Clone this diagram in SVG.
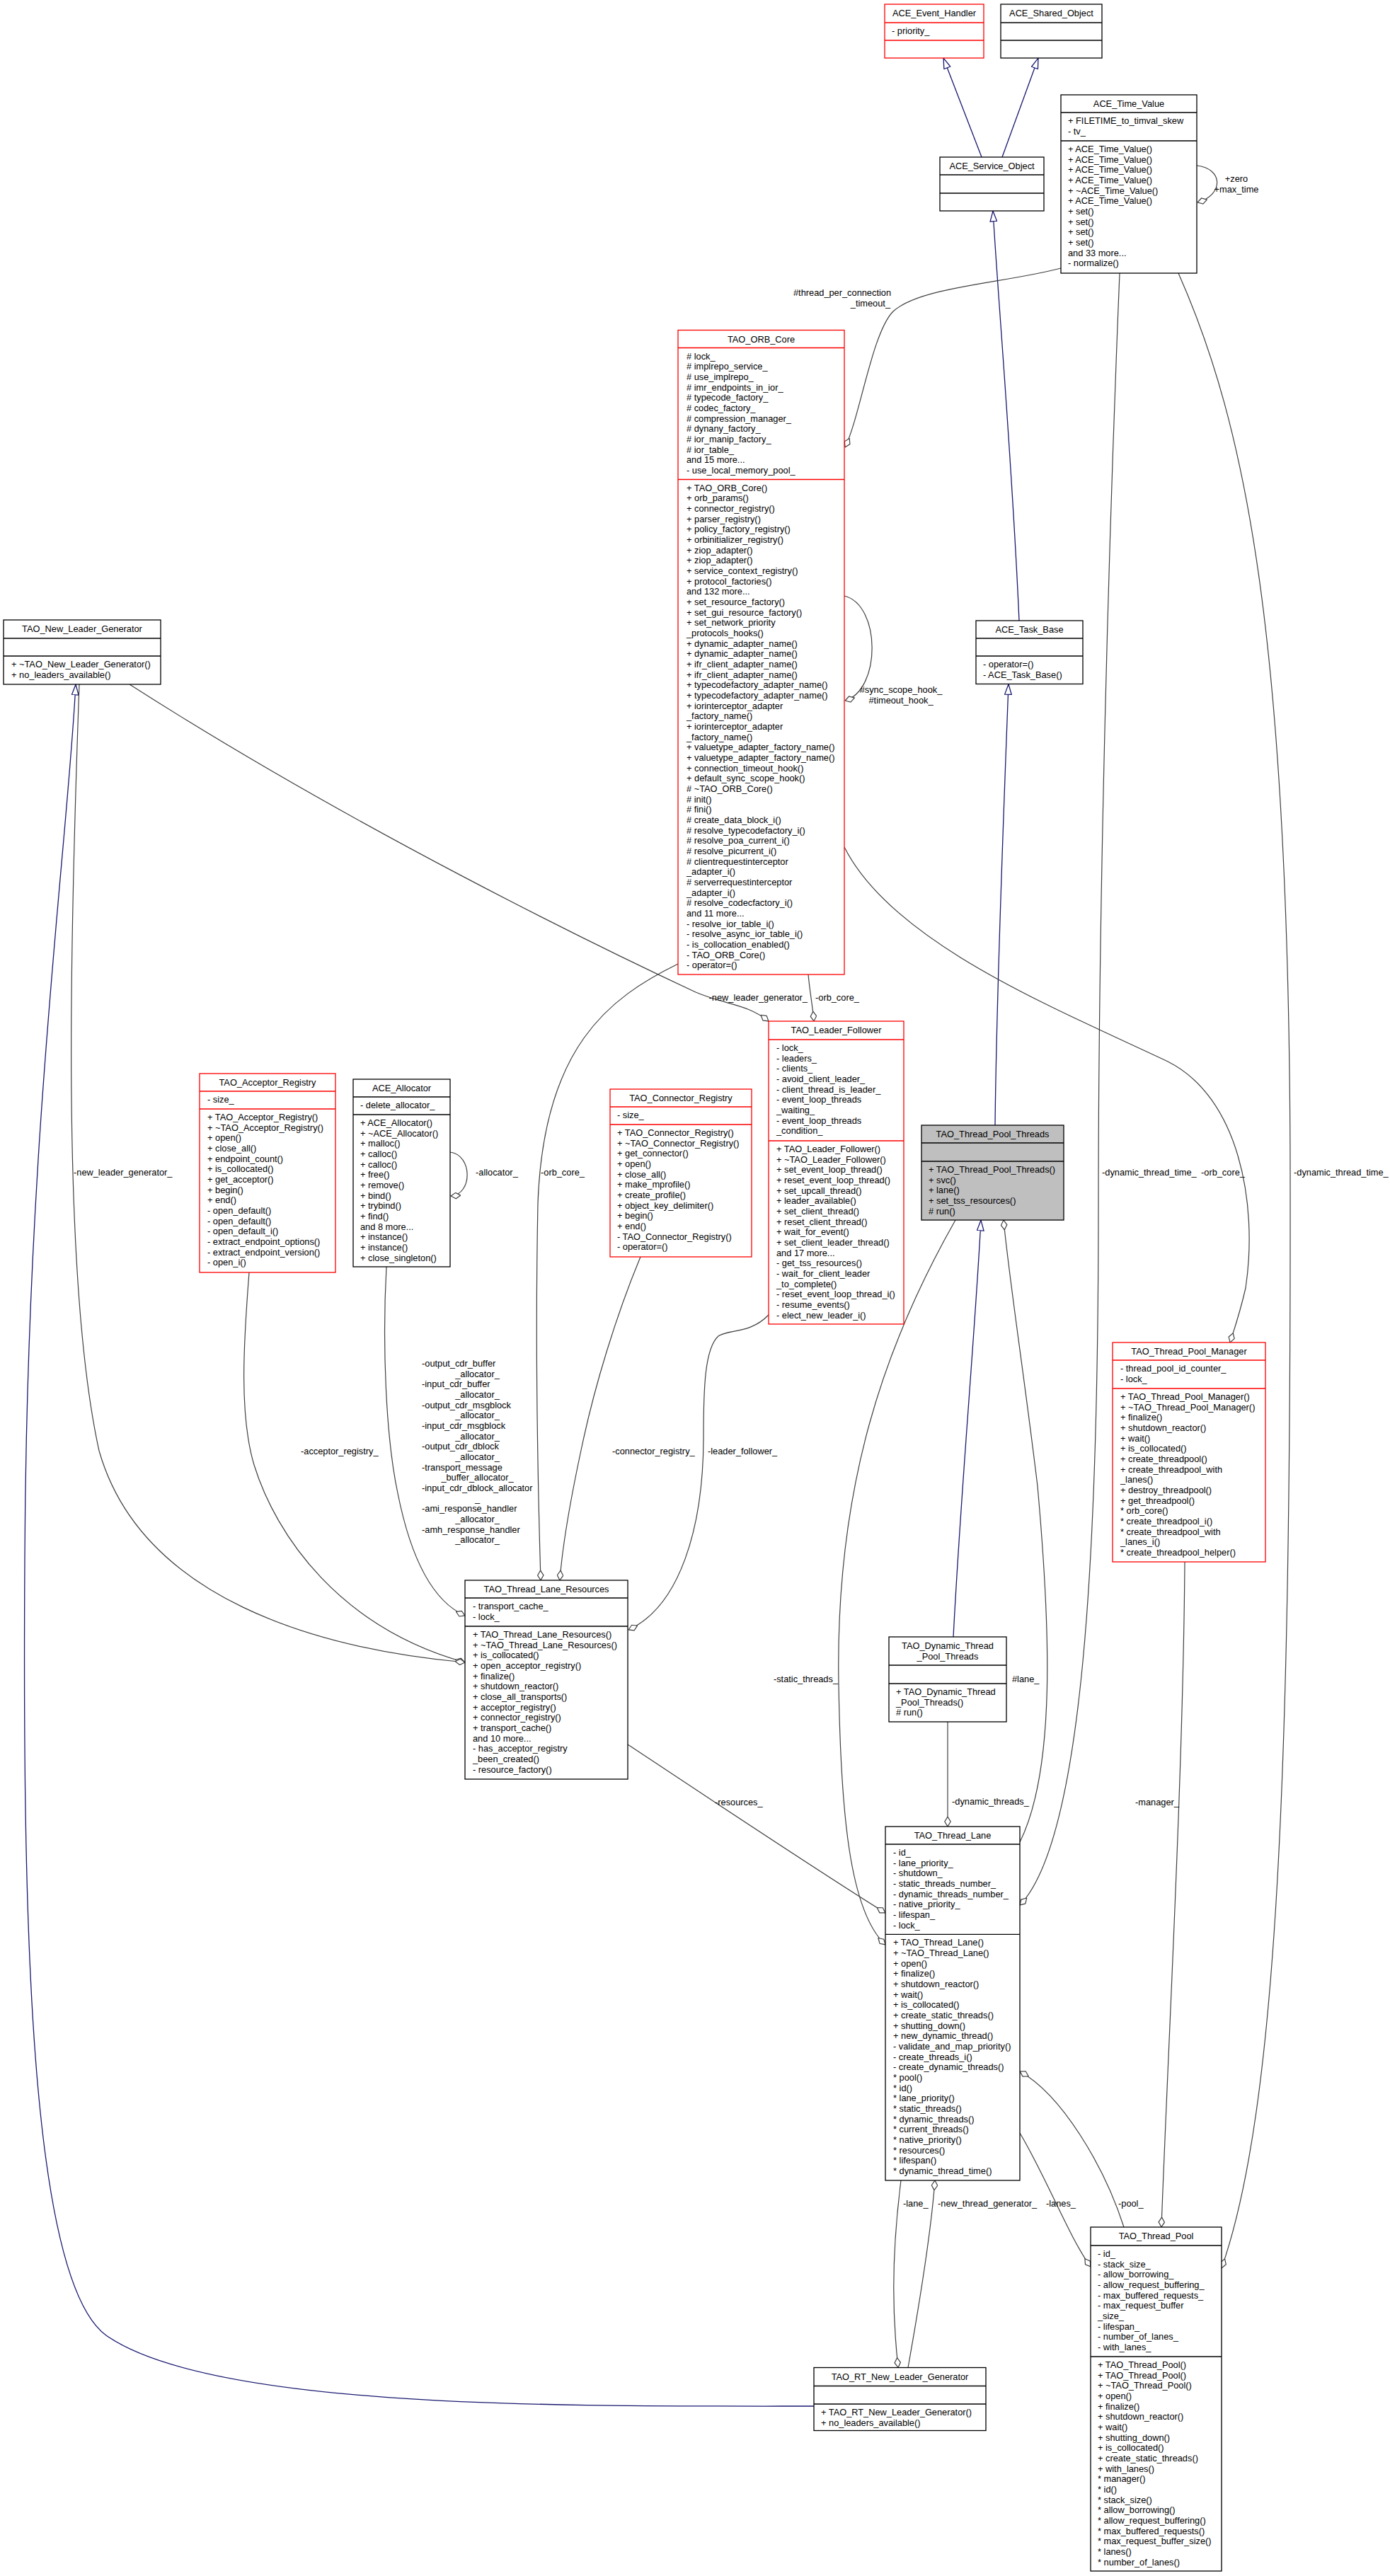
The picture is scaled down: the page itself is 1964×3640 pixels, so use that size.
<svg xmlns="http://www.w3.org/2000/svg" width="1964" height="3640" viewBox="0 0 1964 3640">
<style>
.t{font-family:"Liberation Sans",Arial,sans-serif;font-size:12.8px;fill:#000}
.c{text-anchor:middle}
.e{text-anchor:end}
.bx{fill:#fff;stroke:#000;stroke-width:1.3}
.red{fill:#fff;stroke:#ff0000;stroke-width:1.3}
.gr{fill:#bfbfbf;stroke:#000;stroke-width:1.3}
.dv{stroke:#000;stroke-width:1.3}
.dr{stroke:#ff0000;stroke-width:1.3}
.inh{fill:none;stroke:#191970;stroke-width:1.3;marker-end:url(#inh)}
.agg{fill:none;stroke:#404040;stroke-width:1.2;marker-end:url(#agg)}
</style>
<defs>
<marker id="inh" viewBox="0 0 16 11" refX="15.5" refY="5.5" markerWidth="16" markerHeight="11" markerUnits="userSpaceOnUse" orient="auto"><path d="M0.7,0.7 L15.3,5.5 L0.7,10.3 z" fill="#fff" stroke="#191970" stroke-width="1.3"/></marker>
<marker id="agg" viewBox="0 0 15 10" refX="14.5" refY="5" markerWidth="15" markerHeight="10" markerUnits="userSpaceOnUse" orient="auto"><path d="M0.6,5 L7.5,0.8 L14.4,5 L7.5,9.2 z" fill="#fff" stroke="#404040" stroke-width="1.2"/></marker>
</defs>
<rect width="1964" height="3640" fill="#fff"/>

<g id="edges">
<path class="inh" d="M1387,222 L1333,82"/>
<path class="inh" d="M1416,222 L1467,82"/>
<path class="inh" d="M1440,877 C1430,650 1410,420 1403,298"/>
<path class="inh" d="M1406,1590 C1408,1400 1418,1150 1425,966.5"/>
<path class="inh" d="M1347,2313 C1358,2100 1378,1880 1386,1724"/>
<path class="inh" d="M1150,3400 C800,3400 300,3405 150,3300 C40,3220 32,2700 35,2200 C38,1600 95,1200 107,967"/>
<path class="agg" d="M1691,234 C1728,238 1730,275 1692,286"/>
<path class="agg" d="M1499,379 C1420,400 1300,405 1262,440 C1232,470 1215,590 1194,632"/>
<path class="agg" d="M1193,842 C1245,855 1245,975 1194,990"/>
<path class="agg" d="M1142,1377 C1144,1400 1148,1420 1150,1443"/>
<path class="agg" d="M183,967 C500,1170 850,1340 983,1402 C1025,1420 1055,1418 1086,1443"/>
<path class="agg" d="M958,1362 C860,1410 768,1480 760,1700 C756,1900 760,2100 764,2233"/>
<path class="agg" d="M905,1776 C870,1860 840,1960 823,2040 C810,2100 795,2180 791,2233"/>
<path class="agg" d="M352,1798 C344,1900 338,2000 359,2070 C390,2170 480,2300 657,2349"/>
<path class="agg" d="M112,967 C100,1300 85,1800 140,2050 C200,2260 450,2330 657,2349"/>
<path class="agg" d="M546,1790 C540,1900 545,2030 562,2110 C580,2200 610,2262 657,2283"/>
<path class="agg" d="M636,1628 C668,1632 668,1688 637,1690"/>
<path class="agg" d="M1086,1858 C1060,1885 1030,1878 1015,1888 C996,1905 994,1960 994,2030 C994,2160 960,2270 888,2303"/>
<path class="agg" d="M1193,1197 C1260,1330 1480,1420 1650,1500 C1750,1550 1778,1700 1760,1820 C1752,1855 1745,1875 1738,1897"/>
<path class="agg" d="M1582,386 C1565,800 1552,1300 1552,1700 C1552,2200 1530,2600 1441,2692"/>
<path class="agg" d="M1665,386 C1760,600 1822,900 1823,1657 C1824,2500 1805,2980 1726,3205"/>
<path class="agg" d="M1350,1724 C1250,1900 1180,2100 1185,2380 C1188,2560 1200,2700 1251,2748"/>
<path class="agg" d="M1441,2603 C1492,2500 1484,2300 1466,2100 C1448,1950 1425,1800 1418,1724"/>
<path class="agg" d="M1339,2433 L1339,2581"/>
<path class="agg" d="M887,2465 C1000,2540 1150,2640 1251,2703"/>
<path class="agg" d="M1674,2207 C1672,2500 1650,2900 1641,3147"/>
<path class="agg" d="M1441,3014 C1480,3080 1510,3160 1541,3203"/>
<path class="agg" d="M1588,3147 C1560,3060 1500,2960 1441,2927"/>
<path class="agg" d="M1283,3345.5 C1300,3250 1316,3150 1321,3081"/>
<path class="agg" d="M1273,3081 C1258,3200 1262,3280 1269,3345.5"/>
</g>

<g id="edge-labels" class="t">
<text class="c" x="1747" y="257"><tspan x="1747">+zero</tspan><tspan x="1747" dy="14.67">+max_time</tspan></text>
<text class="c" x="1190" y="418">#thread_per_connection</text>
<text class="e" x="1258" y="432.7">_timeout_</text>
<text class="c" x="1273" y="979"><tspan x="1273">#sync_scope_hook_</tspan><tspan x="1273" dy="14.67">#timeout_hook_</tspan></text>
<text x="1152" y="1414">-orb_core_</text>
<text class="e" x="1141" y="1414">-new_leader_generator_</text>
<text x="764" y="1661">-orb_core_</text>
<text x="104" y="1661">-new_leader_generator_</text>
<text x="672" y="1661">-allocator_</text>
<text x="1557" y="1661">-dynamic_thread_time_</text>
<text x="1697" y="1661">-orb_core_</text>
<text x="1828" y="1661">-dynamic_thread_time_</text>
<text x="425" y="2055">-acceptor_registry_</text>
<text x="865" y="2055">-connector_registry_</text>
<text x="1000" y="2055">-leader_follower_</text>
<text x="596" y="1931">-output_cdr_buffer</text>
<text class="c" x="674.5" y="1945.67">_allocator_</text>
<text x="596" y="1960.34">-input_cdr_buffer</text>
<text class="c" x="674.5" y="1975.01">_allocator_</text>
<text x="596" y="1989.68">-output_cdr_msgblock</text>
<text class="c" x="674.5" y="2004.35">_allocator_</text>
<text x="596" y="2019.02">-input_cdr_msgblock</text>
<text class="c" x="674.5" y="2033.69">_allocator_</text>
<text x="596" y="2048.36">-output_cdr_dblock</text>
<text class="c" x="674.5" y="2063.03">_allocator_</text>
<text x="596" y="2077.7">-transport_message</text>
<text class="c" x="674.5" y="2092.37">_buffer_allocator_</text>
<text x="596" y="2107.04">-input_cdr_dblock_allocator</text>
<text class="c" x="674.5" y="2121.71">_</text>
<text x="596" y="2136.38">-ami_response_handler</text>
<text class="c" x="674.5" y="2151.05">_allocator_</text>
<text x="596" y="2165.72">-amh_response_handler</text>
<text class="c" x="674.5" y="2180.39">_allocator_</text>
<text class="e" x="1184" y="2377">-static_threads_</text>
<text x="1430" y="2377">#lane_</text>
<text x="1345" y="2550">-dynamic_threads_</text>
<text x="1010" y="2551">-resources_</text>
<text x="1604" y="2551">-manager_</text>
<text x="1276" y="3118">-lane_</text>
<text x="1325" y="3118">-new_thread_generator_</text>
<text x="1478" y="3118">-lanes_</text>
<text x="1580" y="3118">-pool_</text>
</g>

<g id="ACE_Event_Handler">
<rect class="red" x="1250" y="6" width="140" height="76"/>
<path class="dr" d="M1250,32 H1390 M1250,57 H1390"/>
<text class="t c" x="1320" y="23">ACE_Event_Handler</text>
<text class="t" x="1260" y="48">- priority_</text>
</g>

<g id="ACE_Shared_Object">
<rect class="bx" x="1414" y="6" width="143" height="76"/>
<path class="dv" d="M1414,32 H1557 M1414,57 H1557"/>
<text class="t c" x="1485.5" y="23">ACE_Shared_Object</text>
</g>

<g id="ACE_Service_Object">
<rect class="bx" x="1328" y="222" width="147" height="76"/>
<path class="dv" d="M1328,247 H1475 M1328,273 H1475"/>
<text class="t c" x="1401.5" y="239">ACE_Service_Object</text>
</g>

<g id="ACE_Time_Value">
<rect class="bx" x="1499" y="134" width="192" height="252"/>
<path class="dv" d="M1499,159 H1691 M1499,199 H1691"/>
<text class="t c" x="1595" y="151">ACE_Time_Value</text>
<text class="t" x="1509" y="175"><tspan x="1509">+ FILETIME_to_timval_skew</tspan><tspan x="1509" dy="14.67">- tv_</tspan></text>
<text class="t" x="1509" y="215"><tspan x="1509">+ ACE_Time_Value()</tspan><tspan x="1509" dy="14.67">+ ACE_Time_Value()</tspan><tspan x="1509" dy="14.67">+ ACE_Time_Value()</tspan><tspan x="1509" dy="14.67">+ ACE_Time_Value()</tspan><tspan x="1509" dy="14.67">+ ~ACE_Time_Value()</tspan><tspan x="1509" dy="14.67">+ ACE_Time_Value()</tspan><tspan x="1509" dy="14.67">+ set()</tspan><tspan x="1509" dy="14.67">+ set()</tspan><tspan x="1509" dy="14.67">+ set()</tspan><tspan x="1509" dy="14.67">+ set()</tspan><tspan x="1509" dy="14.67">and 33 more...</tspan><tspan x="1509" dy="14.67">- normalize()</tspan></text>
</g>

<g id="TAO_ORB_Core">
<rect class="red" x="958" y="466.5" width="235" height="910.5"/>
<path class="dr" d="M958,491.5 H1193 M958,677.5 H1193"/>
<text class="t c" x="1075.5" y="483.5">TAO_ORB_Core</text>
<text class="t" x="970" y="507.5"><tspan x="970"># lock_</tspan><tspan x="970" dy="14.67"># implrepo_service_</tspan><tspan x="970" dy="14.67"># use_implrepo_</tspan><tspan x="970" dy="14.67"># imr_endpoints_in_ior_</tspan><tspan x="970" dy="14.67"># typecode_factory_</tspan><tspan x="970" dy="14.67"># codec_factory_</tspan><tspan x="970" dy="14.67"># compression_manager_</tspan><tspan x="970" dy="14.67"># dynany_factory_</tspan><tspan x="970" dy="14.67"># ior_manip_factory_</tspan><tspan x="970" dy="14.67"># ior_table_</tspan><tspan x="970" dy="14.67">and 15 more...</tspan><tspan x="970" dy="14.67">- use_local_memory_pool_</tspan></text>
<text class="t" x="970" y="693.5"><tspan x="970">+ TAO_ORB_Core()</tspan><tspan x="970" dy="14.67">+ orb_params()</tspan><tspan x="970" dy="14.67">+ connector_registry()</tspan><tspan x="970" dy="14.67">+ parser_registry()</tspan><tspan x="970" dy="14.67">+ policy_factory_registry()</tspan><tspan x="970" dy="14.67">+ orbinitializer_registry()</tspan><tspan x="970" dy="14.67">+ ziop_adapter()</tspan><tspan x="970" dy="14.67">+ ziop_adapter()</tspan><tspan x="970" dy="14.67">+ service_context_registry()</tspan><tspan x="970" dy="14.67">+ protocol_factories()</tspan><tspan x="970" dy="14.67">and 132 more...</tspan><tspan x="970" dy="14.67">+ set_resource_factory()</tspan><tspan x="970" dy="14.67">+ set_gui_resource_factory()</tspan><tspan x="970" dy="14.67">+ set_network_priority</tspan><tspan x="970" dy="14.67">_protocols_hooks()</tspan><tspan x="970" dy="14.67">+ dynamic_adapter_name()</tspan><tspan x="970" dy="14.67">+ dynamic_adapter_name()</tspan><tspan x="970" dy="14.67">+ ifr_client_adapter_name()</tspan><tspan x="970" dy="14.67">+ ifr_client_adapter_name()</tspan><tspan x="970" dy="14.67">+ typecodefactory_adapter_name()</tspan><tspan x="970" dy="14.67">+ typecodefactory_adapter_name()</tspan><tspan x="970" dy="14.67">+ iorinterceptor_adapter</tspan><tspan x="970" dy="14.67">_factory_name()</tspan><tspan x="970" dy="14.67">+ iorinterceptor_adapter</tspan><tspan x="970" dy="14.67">_factory_name()</tspan><tspan x="970" dy="14.67">+ valuetype_adapter_factory_name()</tspan><tspan x="970" dy="14.67">+ valuetype_adapter_factory_name()</tspan><tspan x="970" dy="14.67">+ connection_timeout_hook()</tspan><tspan x="970" dy="14.67">+ default_sync_scope_hook()</tspan><tspan x="970" dy="14.67"># ~TAO_ORB_Core()</tspan><tspan x="970" dy="14.67"># init()</tspan><tspan x="970" dy="14.67"># fini()</tspan><tspan x="970" dy="14.67"># create_data_block_i()</tspan><tspan x="970" dy="14.67"># resolve_typecodefactory_i()</tspan><tspan x="970" dy="14.67"># resolve_poa_current_i()</tspan><tspan x="970" dy="14.67"># resolve_picurrent_i()</tspan><tspan x="970" dy="14.67"># clientrequestinterceptor</tspan><tspan x="970" dy="14.67">_adapter_i()</tspan><tspan x="970" dy="14.67"># serverrequestinterceptor</tspan><tspan x="970" dy="14.67">_adapter_i()</tspan><tspan x="970" dy="14.67"># resolve_codecfactory_i()</tspan><tspan x="970" dy="14.67">and 11 more...</tspan><tspan x="970" dy="14.67">- resolve_ior_table_i()</tspan><tspan x="970" dy="14.67">- resolve_async_ior_table_i()</tspan><tspan x="970" dy="14.67">- is_collocation_enabled()</tspan><tspan x="970" dy="14.67">- TAO_ORB_Core()</tspan><tspan x="970" dy="14.67">- operator=()</tspan></text>
</g>

<g id="TAO_New_Leader_Generator">
<rect class="bx" x="5" y="876" width="222" height="91"/>
<path class="dv" d="M5,902 H227 M5,927 H227"/>
<text class="t c" x="116" y="893">TAO_New_Leader_Generator</text>
<text class="t" x="16" y="943"><tspan x="16">+ ~TAO_New_Leader_Generator()</tspan><tspan x="16" dy="14.67">+ no_leaders_available()</tspan></text>
</g>

<g id="ACE_Task_Base">
<rect class="bx" x="1379" y="877" width="151" height="89.5"/>
<path class="dv" d="M1379,902 H1530 M1379,927 H1530"/>
<text class="t c" x="1454.5" y="894">ACE_Task_Base</text>
<text class="t" x="1389" y="943"><tspan x="1389">- operator=()</tspan><tspan x="1389" dy="14.67">- ACE_Task_Base()</tspan></text>
</g>

<g id="TAO_Leader_Follower">
<rect class="red" x="1086" y="1443" width="191" height="428"/>
<path class="dr" d="M1086,1469 H1277 M1086,1612 H1277"/>
<text class="t c" x="1181.5" y="1460">TAO_Leader_Follower</text>
<text class="t" x="1097" y="1485"><tspan x="1097">- lock_</tspan><tspan x="1097" dy="14.67">- leaders_</tspan><tspan x="1097" dy="14.67">- clients_</tspan><tspan x="1097" dy="14.67">- avoid_client_leader_</tspan><tspan x="1097" dy="14.67">- client_thread_is_leader_</tspan><tspan x="1097" dy="14.67">- event_loop_threads</tspan><tspan x="1097" dy="14.67">_waiting_</tspan><tspan x="1097" dy="14.67">- event_loop_threads</tspan><tspan x="1097" dy="14.67">_condition_</tspan></text>
<text class="t" x="1097" y="1628"><tspan x="1097">+ TAO_Leader_Follower()</tspan><tspan x="1097" dy="14.67">+ ~TAO_Leader_Follower()</tspan><tspan x="1097" dy="14.67">+ set_event_loop_thread()</tspan><tspan x="1097" dy="14.67">+ reset_event_loop_thread()</tspan><tspan x="1097" dy="14.67">+ set_upcall_thread()</tspan><tspan x="1097" dy="14.67">+ leader_available()</tspan><tspan x="1097" dy="14.67">+ set_client_thread()</tspan><tspan x="1097" dy="14.67">+ reset_client_thread()</tspan><tspan x="1097" dy="14.67">+ wait_for_event()</tspan><tspan x="1097" dy="14.67">+ set_client_leader_thread()</tspan><tspan x="1097" dy="14.67">and 17 more...</tspan><tspan x="1097" dy="14.67">- get_tss_resources()</tspan><tspan x="1097" dy="14.67">- wait_for_client_leader</tspan><tspan x="1097" dy="14.67">_to_complete()</tspan><tspan x="1097" dy="14.67">- reset_event_loop_thread_i()</tspan><tspan x="1097" dy="14.67">- resume_events()</tspan><tspan x="1097" dy="14.67">- elect_new_leader_i()</tspan></text>
</g>

<g id="TAO_Acceptor_Registry">
<rect class="red" x="282" y="1517" width="192" height="281"/>
<path class="dr" d="M282,1542 H474 M282,1567 H474"/>
<text class="t c" x="378" y="1534">TAO_Acceptor_Registry</text>
<text class="t" x="293" y="1558">- size_</text>
<text class="t" x="293" y="1583"><tspan x="293">+ TAO_Acceptor_Registry()</tspan><tspan x="293" dy="14.67">+ ~TAO_Acceptor_Registry()</tspan><tspan x="293" dy="14.67">+ open()</tspan><tspan x="293" dy="14.67">+ close_all()</tspan><tspan x="293" dy="14.67">+ endpoint_count()</tspan><tspan x="293" dy="14.67">+ is_collocated()</tspan><tspan x="293" dy="14.67">+ get_acceptor()</tspan><tspan x="293" dy="14.67">+ begin()</tspan><tspan x="293" dy="14.67">+ end()</tspan><tspan x="293" dy="14.67">- open_default()</tspan><tspan x="293" dy="14.67">- open_default()</tspan><tspan x="293" dy="14.67">- open_default_i()</tspan><tspan x="293" dy="14.67">- extract_endpoint_options()</tspan><tspan x="293" dy="14.67">- extract_endpoint_version()</tspan><tspan x="293" dy="14.67">- open_i()</tspan></text>
</g>

<g id="ACE_Allocator">
<rect class="bx" x="499" y="1525" width="137" height="265"/>
<path class="dv" d="M499,1550 H636 M499,1575 H636"/>
<text class="t c" x="567.5" y="1542">ACE_Allocator</text>
<text class="t" x="509" y="1566">- delete_allocator_</text>
<text class="t" x="509" y="1591"><tspan x="509">+ ACE_Allocator()</tspan><tspan x="509" dy="14.67">+ ~ACE_Allocator()</tspan><tspan x="509" dy="14.67">+ malloc()</tspan><tspan x="509" dy="14.67">+ calloc()</tspan><tspan x="509" dy="14.67">+ calloc()</tspan><tspan x="509" dy="14.67">+ free()</tspan><tspan x="509" dy="14.67">+ remove()</tspan><tspan x="509" dy="14.67">+ bind()</tspan><tspan x="509" dy="14.67">+ trybind()</tspan><tspan x="509" dy="14.67">+ find()</tspan><tspan x="509" dy="14.67">and 8 more...</tspan><tspan x="509" dy="14.67">+ instance()</tspan><tspan x="509" dy="14.67">+ instance()</tspan><tspan x="509" dy="14.67">+ close_singleton()</tspan></text>
</g>

<g id="TAO_Connector_Registry">
<rect class="red" x="862" y="1539" width="200" height="237"/>
<path class="dr" d="M862,1564 H1062 M862,1589 H1062"/>
<text class="t c" x="962" y="1556">TAO_Connector_Registry</text>
<text class="t" x="872" y="1580">- size_</text>
<text class="t" x="872" y="1605"><tspan x="872">+ TAO_Connector_Registry()</tspan><tspan x="872" dy="14.67">+ ~TAO_Connector_Registry()</tspan><tspan x="872" dy="14.67">+ get_connector()</tspan><tspan x="872" dy="14.67">+ open()</tspan><tspan x="872" dy="14.67">+ close_all()</tspan><tspan x="872" dy="14.67">+ make_mprofile()</tspan><tspan x="872" dy="14.67">+ create_profile()</tspan><tspan x="872" dy="14.67">+ object_key_delimiter()</tspan><tspan x="872" dy="14.67">+ begin()</tspan><tspan x="872" dy="14.67">+ end()</tspan><tspan x="872" dy="14.67">- TAO_Connector_Registry()</tspan><tspan x="872" dy="14.67">- operator=()</tspan></text>
</g>

<g id="TAO_Thread_Pool_Threads">
<rect class="gr" x="1302" y="1590" width="201" height="134"/>
<path class="dv" d="M1302,1615 H1503 M1302,1641 H1503"/>
<text class="t c" x="1402.5" y="1607">TAO_Thread_Pool_Threads</text>
<text class="t" x="1312" y="1657"><tspan x="1312">+ TAO_Thread_Pool_Threads()</tspan><tspan x="1312" dy="14.67">+ svc()</tspan><tspan x="1312" dy="14.67">+ lane()</tspan><tspan x="1312" dy="14.67">+ set_tss_resources()</tspan><tspan x="1312" dy="14.67"># run()</tspan></text>
</g>

<g id="TAO_Thread_Pool_Manager">
<rect class="red" x="1572" y="1897" width="216" height="310"/>
<path class="dr" d="M1572,1922 H1788 M1572,1962 H1788"/>
<text class="t c" x="1680" y="1914">TAO_Thread_Pool_Manager</text>
<text class="t" x="1583" y="1938"><tspan x="1583">- thread_pool_id_counter_</tspan><tspan x="1583" dy="14.67">- lock_</tspan></text>
<text class="t" x="1583" y="1978"><tspan x="1583">+ TAO_Thread_Pool_Manager()</tspan><tspan x="1583" dy="14.67">+ ~TAO_Thread_Pool_Manager()</tspan><tspan x="1583" dy="14.67">+ finalize()</tspan><tspan x="1583" dy="14.67">+ shutdown_reactor()</tspan><tspan x="1583" dy="14.67">+ wait()</tspan><tspan x="1583" dy="14.67">+ is_collocated()</tspan><tspan x="1583" dy="14.67">+ create_threadpool()</tspan><tspan x="1583" dy="14.67">+ create_threadpool_with</tspan><tspan x="1583" dy="14.67">_lanes()</tspan><tspan x="1583" dy="14.67">+ destroy_threadpool()</tspan><tspan x="1583" dy="14.67">+ get_threadpool()</tspan><tspan x="1583" dy="14.67">* orb_core()</tspan><tspan x="1583" dy="14.67">* create_threadpool_i()</tspan><tspan x="1583" dy="14.67">* create_threadpool_with</tspan><tspan x="1583" dy="14.67">_lanes_i()</tspan><tspan x="1583" dy="14.67">* create_threadpool_helper()</tspan></text>
</g>

<g id="TAO_Thread_Lane_Resources">
<rect class="bx" x="657" y="2233" width="230" height="281"/>
<path class="dv" d="M657,2258 H887 M657,2298 H887"/>
<text class="t c" x="772" y="2250">TAO_Thread_Lane_Resources</text>
<text class="t" x="668" y="2274"><tspan x="668">- transport_cache_</tspan><tspan x="668" dy="14.67">- lock_</tspan></text>
<text class="t" x="668" y="2314"><tspan x="668">+ TAO_Thread_Lane_Resources()</tspan><tspan x="668" dy="14.67">+ ~TAO_Thread_Lane_Resources()</tspan><tspan x="668" dy="14.67">+ is_collocated()</tspan><tspan x="668" dy="14.67">+ open_acceptor_registry()</tspan><tspan x="668" dy="14.67">+ finalize()</tspan><tspan x="668" dy="14.67">+ shutdown_reactor()</tspan><tspan x="668" dy="14.67">+ close_all_transports()</tspan><tspan x="668" dy="14.67">+ acceptor_registry()</tspan><tspan x="668" dy="14.67">+ connector_registry()</tspan><tspan x="668" dy="14.67">+ transport_cache()</tspan><tspan x="668" dy="14.67">and 10 more...</tspan><tspan x="668" dy="14.67">- has_acceptor_registry</tspan><tspan x="668" dy="14.67">_been_created()</tspan><tspan x="668" dy="14.67">- resource_factory()</tspan></text>
</g>

<g id="TAO_Dynamic_Thread_Pool_Threads">
<rect class="bx" x="1256" y="2313" width="166" height="120"/>
<path class="dv" d="M1256,2353 H1422 M1256,2379 H1422"/>
<text class="t c" x="1339" y="2330"><tspan x="1339">TAO_Dynamic_Thread</tspan><tspan x="1339" dy="14.67">_Pool_Threads</tspan></text>
<text class="t" x="1266" y="2395"><tspan x="1266">+ TAO_Dynamic_Thread</tspan><tspan x="1266" dy="14.67">_Pool_Threads()</tspan><tspan x="1266" dy="14.67"># run()</tspan></text>
</g>

<g id="TAO_Thread_Lane">
<rect class="bx" x="1251" y="2581" width="190" height="500"/>
<path class="dv" d="M1251,2606 H1441 M1251,2733.4 H1441"/>
<text class="t c" x="1346" y="2598">TAO_Thread_Lane</text>
<text class="t" x="1262" y="2622"><tspan x="1262">- id_</tspan><tspan x="1262" dy="14.67">- lane_priority_</tspan><tspan x="1262" dy="14.67">- shutdown_</tspan><tspan x="1262" dy="14.67">- static_threads_number_</tspan><tspan x="1262" dy="14.67">- dynamic_threads_number_</tspan><tspan x="1262" dy="14.67">- native_priority_</tspan><tspan x="1262" dy="14.67">- lifespan_</tspan><tspan x="1262" dy="14.67">- lock_</tspan></text>
<text class="t" x="1262" y="2749.4"><tspan x="1262">+ TAO_Thread_Lane()</tspan><tspan x="1262" dy="14.67">+ ~TAO_Thread_Lane()</tspan><tspan x="1262" dy="14.67">+ open()</tspan><tspan x="1262" dy="14.67">+ finalize()</tspan><tspan x="1262" dy="14.67">+ shutdown_reactor()</tspan><tspan x="1262" dy="14.67">+ wait()</tspan><tspan x="1262" dy="14.67">+ is_collocated()</tspan><tspan x="1262" dy="14.67">+ create_static_threads()</tspan><tspan x="1262" dy="14.67">+ shutting_down()</tspan><tspan x="1262" dy="14.67">+ new_dynamic_thread()</tspan><tspan x="1262" dy="14.67">- validate_and_map_priority()</tspan><tspan x="1262" dy="14.67">- create_threads_i()</tspan><tspan x="1262" dy="14.67">- create_dynamic_threads()</tspan><tspan x="1262" dy="14.67">* pool()</tspan><tspan x="1262" dy="14.67">* id()</tspan><tspan x="1262" dy="14.67">* lane_priority()</tspan><tspan x="1262" dy="14.67">* static_threads()</tspan><tspan x="1262" dy="14.67">* dynamic_threads()</tspan><tspan x="1262" dy="14.67">* current_threads()</tspan><tspan x="1262" dy="14.67">* native_priority()</tspan><tspan x="1262" dy="14.67">* resources()</tspan><tspan x="1262" dy="14.67">* lifespan()</tspan><tspan x="1262" dy="14.67">* dynamic_thread_time()</tspan></text>
</g>

<g id="TAO_RT_New_Leader_Generator">
<rect class="bx" x="1150" y="3345.5" width="243" height="89"/>
<path class="dv" d="M1150,3371.5 H1393 M1150,3397 H1393"/>
<text class="t c" x="1271.5" y="3362.5">TAO_RT_New_Leader_Generator</text>
<text class="t" x="1160" y="3413"><tspan x="1160">+ TAO_RT_New_Leader_Generator()</tspan><tspan x="1160" dy="14.67">+ no_leaders_available()</tspan></text>
</g>

<g id="TAO_Thread_Pool">
<rect class="bx" x="1541" y="3147" width="185" height="486"/>
<path class="dv" d="M1541,3173 H1726 M1541,3330 H1726"/>
<text class="t c" x="1633.5" y="3164">TAO_Thread_Pool</text>
<text class="t" x="1551" y="3189"><tspan x="1551">- id_</tspan><tspan x="1551" dy="14.67">- stack_size_</tspan><tspan x="1551" dy="14.67">- allow_borrowing_</tspan><tspan x="1551" dy="14.67">- allow_request_buffering_</tspan><tspan x="1551" dy="14.67">- max_buffered_requests_</tspan><tspan x="1551" dy="14.67">- max_request_buffer</tspan><tspan x="1551" dy="14.67">_size_</tspan><tspan x="1551" dy="14.67">- lifespan_</tspan><tspan x="1551" dy="14.67">- number_of_lanes_</tspan><tspan x="1551" dy="14.67">- with_lanes_</tspan></text>
<text class="t" x="1551" y="3346"><tspan x="1551">+ TAO_Thread_Pool()</tspan><tspan x="1551" dy="14.67">+ TAO_Thread_Pool()</tspan><tspan x="1551" dy="14.67">+ ~TAO_Thread_Pool()</tspan><tspan x="1551" dy="14.67">+ open()</tspan><tspan x="1551" dy="14.67">+ finalize()</tspan><tspan x="1551" dy="14.67">+ shutdown_reactor()</tspan><tspan x="1551" dy="14.67">+ wait()</tspan><tspan x="1551" dy="14.67">+ shutting_down()</tspan><tspan x="1551" dy="14.67">+ is_collocated()</tspan><tspan x="1551" dy="14.67">+ create_static_threads()</tspan><tspan x="1551" dy="14.67">+ with_lanes()</tspan><tspan x="1551" dy="14.67">* manager()</tspan><tspan x="1551" dy="14.67">* id()</tspan><tspan x="1551" dy="14.67">* stack_size()</tspan><tspan x="1551" dy="14.67">* allow_borrowing()</tspan><tspan x="1551" dy="14.67">* allow_request_buffering()</tspan><tspan x="1551" dy="14.67">* max_buffered_requests()</tspan><tspan x="1551" dy="14.67">* max_request_buffer_size()</tspan><tspan x="1551" dy="14.67">* lanes()</tspan><tspan x="1551" dy="14.67">* number_of_lanes()</tspan></text>
</g>
</svg>
